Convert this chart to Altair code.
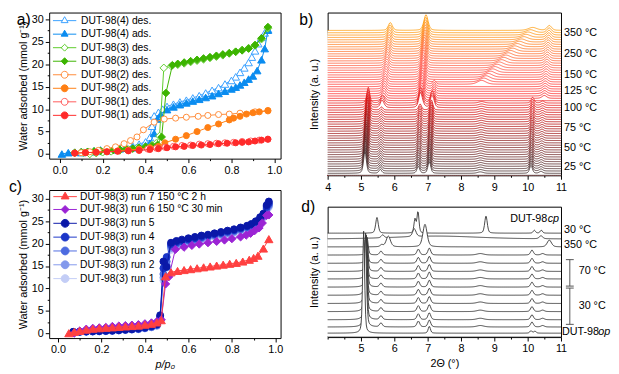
import altair as alt
import numpy as np
import pandas as pd

FONT = "Liberation Sans"

# ---------------- panel a: water isotherms ----------------
A_SERIES = ["DUT-98(4) des.", "DUT-98(4) ads.", "DUT-98(3) des.", "DUT-98(3) ads.",
            "DUT-98(2) des.", "DUT-98(2) ads.", "DUT-98(1) des.", "DUT-98(1) ads."]
A_COLORS = ["#3aa0ff", "#0a8cf0", "#5ccc2a", "#3cb400", "#ff8c3a", "#ff7f14", "#ff5a5a", "#ff2a2a"]
A_OPEN = [True, False, True, False, True, False, True, False]
A_SHAPES = ["triangle-up", "triangle-up", "diamond", "diamond", "circle", "circle", "circle", "circle"]

p4d = [0.97, 0.955, 0.94, 0.925, 0.91, 0.895, 0.88, 0.86, 0.84, 0.82, 0.80, 0.77, 0.74, 0.71, 0.68, 0.65,
       0.62, 0.59, 0.56, 0.53, 0.50, 0.48, 0.46, 0.44, 0.43, 0.42, 0.40, 0.37, 0.34, 0.31, 0.28, 0.25,
       0.22, 0.19, 0.16, 0.13, 0.10]
v4d = [27.8, 27.0, 26.0, 24.6, 23.0, 21.6, 20.4, 19.2, 18.2, 17.2, 16.4, 15.6, 14.8, 14.2, 13.6, 13.0,
       12.5, 12.0, 11.6, 11.1, 10.6, 10.0, 9.3, 8.5, 6.2, 3.7, 2.7, 2.2, 1.8, 1.5, 1.2, 0.9,
       0.7, 0.6, 0.5, 0.4, 0.3]
p4a = [0.01, 0.04, 0.07, 0.10, 0.13, 0.16, 0.19, 0.22, 0.25, 0.28, 0.31, 0.34, 0.37, 0.40, 0.42, 0.44,
       0.455, 0.47, 0.50, 0.53, 0.56, 0.59, 0.62, 0.65, 0.68, 0.71, 0.74, 0.77, 0.80, 0.82, 0.84, 0.86,
       0.88, 0.90, 0.92, 0.94, 0.955, 0.97]
v4a = [0.0, 0.3, 0.4, 0.5, 0.6, 0.7, 0.9, 1.0, 1.1, 1.2, 1.3, 1.4, 1.6, 1.9, 2.4, 4.6,
       7.8, 8.8, 9.9, 10.5, 11.0, 11.4, 11.8, 12.2, 12.6, 13.0, 13.5, 14.0, 14.5, 14.9, 15.4, 16.0,
       16.7, 17.4, 18.6, 21.0, 23.5, 27.6]
p3d = [0.97, 0.94, 0.91, 0.88, 0.85, 0.82, 0.79, 0.76, 0.73, 0.70, 0.67, 0.64, 0.61, 0.58, 0.55, 0.52,
       0.485, 0.465, 0.45, 0.43, 0.40, 0.36, 0.32, 0.28, 0.24, 0.20, 0.17, 0.14, 0.11]
v3d = [28.0, 25.6, 24.2, 23.6, 23.2, 22.8, 22.4, 22.0, 21.7, 21.4, 21.1, 20.8, 20.5, 20.2, 19.9, 19.6,
       19.2, 4.0, 2.4, 2.0, 1.6, 1.3, 1.0, 0.8, 0.6, 0.4, 0.2, 0.0, 0.3]
p3a = [0.07, 0.10, 0.13, 0.16, 0.19, 0.22, 0.25, 0.28, 0.31, 0.34, 0.37, 0.40, 0.43, 0.455, 0.475, 0.495,
       0.525, 0.55, 0.58, 0.61, 0.64, 0.67, 0.70, 0.73, 0.76, 0.79, 0.82, 0.85, 0.88, 0.91, 0.94, 0.97]
v3a = [0.3, 0.4, 0.5, 0.6, 0.7, 0.8, 0.9, 1.0, 1.1, 1.2, 1.4, 1.6, 1.8, 2.0, 3.8, 13.6,
       19.8, 20.1, 20.4, 20.7, 21.0, 21.3, 21.6, 21.9, 22.2, 22.5, 22.8, 23.1, 23.5, 24.3, 25.8, 28.3]
p2d = [0.97, 0.91, 0.84, 0.79, 0.74, 0.69, 0.645, 0.59, 0.54, 0.487, 0.44, 0.39, 0.36, 0.33, 0.30, 0.26,
       0.22, 0.18, 0.14, 0.10]
v2d = [9.6, 9.4, 9.1, 8.9, 8.8, 8.6, 8.4, 8.2, 8.0, 7.8, 7.1, 5.4, 3.8, 3.0, 2.3, 1.6,
       1.2, 0.8, 0.5, 0.3]
p2a = [0.07, 0.12, 0.17, 0.22, 0.27, 0.32, 0.37, 0.42, 0.46, 0.49, 0.54, 0.59, 0.64, 0.69, 0.74, 0.79,
       0.81, 0.84, 0.87, 0.90, 0.93, 0.97]
v2a = [0.2, 0.3, 0.4, 0.5, 0.7, 0.9, 1.1, 1.4, 1.7, 2.5, 3.3, 4.1, 5.0, 5.9, 6.7, 7.6,
       8.0, 8.4, 8.9, 9.2, 9.4, 9.7]
p1d = [0.97, 0.93, 0.89, 0.85, 0.81, 0.77, 0.73, 0.69, 0.65, 0.61, 0.57, 0.53, 0.49, 0.45, 0.41]
v1d = [3.3, 3.1, 2.9, 2.8, 2.6, 2.5, 2.4, 2.3, 2.2, 2.0, 1.9, 1.7, 1.5, 1.3, 1.1]
p1a = [0.07, 0.12, 0.17, 0.22, 0.27, 0.32, 0.37, 0.42, 0.46, 0.50, 0.54, 0.58, 0.62, 0.66, 0.70, 0.74,
       0.78, 0.82, 0.85, 0.88, 0.91, 0.94, 0.97]
v1a = [0.2, 0.3, 0.4, 0.5, 0.6, 0.7, 0.8, 1.0, 1.2, 1.4, 1.6, 1.7, 1.9, 2.0, 2.1, 2.3,
       2.4, 2.5, 2.6, 2.7, 2.9, 3.1, 3.3]
A_P = [p4d, p4a, p3d, p3a, p2d, p2a, p1d, p1a]
A_V = [v4d, v4a, v3d, v3a, v2d, v2a, v1d, v1a]

# ---------------- panel c: cycling isotherms ----------------
C_SERIES = ["DUT-98(3) run 7 150 °C 2 h", "DUT-98(3) run 6 150 °C 30 min", "DUT-98(3) run 5",
            "DUT-98(3) run 4", "DUT-98(3) run 3", "DUT-98(3) run 2", "DUT-98(3) run 1"]
C_COLORS = ["#ff4040", "#9b24d4", "#0a18a8", "#1c36c8", "#4d6be0", "#8399ec", "#c3cdf6"]
C_SHAPES = ["triangle-up", "diamond", "circle", "circle", "circle", "circle", "circle"]

pc_blue = [0.07, 0.10, 0.13, 0.16, 0.19, 0.22, 0.25, 0.28, 0.31, 0.34, 0.37, 0.40, 0.43, 0.455, 0.47,
           0.485, 0.50, 0.52, 0.545, 0.57, 0.60, 0.63, 0.66, 0.69, 0.72, 0.75, 0.78, 0.81, 0.84, 0.87,
           0.89, 0.91, 0.93, 0.945, 0.96, 0.97]
vc5 = [0.3, 0.35, 0.4, 0.45, 0.5, 0.55, 0.6, 0.7, 0.8, 0.9, 1.1, 1.3, 1.6, 2.0, 4.0,
       16.0, 14.8, 20.2, 20.6, 20.9, 21.2, 21.5, 21.8, 22.0, 22.3, 22.6, 22.9, 23.2, 23.6, 24.0,
       24.4, 25.0, 25.9, 26.7, 28.6, 29.4]
vc4 = [0.3, 0.35, 0.4, 0.45, 0.5, 0.55, 0.6, 0.7, 0.8, 0.9, 1.0, 1.2, 1.5, 1.9, 3.6,
       14.5, 17.0, 19.8, 20.3, 20.6, 20.9, 21.2, 21.5, 21.8, 22.1, 22.4, 22.7, 23.0, 23.4, 23.8,
       24.2, 24.8, 25.6, 26.4, 28.2, 29.0]
vc3 = [0.25, 0.3, 0.35, 0.4, 0.45, 0.5, 0.55, 0.65, 0.75, 0.85, 0.95, 1.15, 1.4, 1.8, 3.4,
       13.2, 16.0, 19.4, 20.0, 20.4, 20.7, 21.0, 21.3, 21.6, 21.9, 22.2, 22.5, 22.8, 23.2, 23.6,
       24.0, 24.6, 25.4, 26.2, 27.9, 28.7]
vc2 = [0.2, 0.25, 0.3, 0.35, 0.4, 0.45, 0.5, 0.6, 0.7, 0.8, 0.9, 1.1, 1.35, 1.7, 3.2,
       12.4, 15.2, 19.0, 19.7, 20.1, 20.4, 20.8, 21.1, 21.4, 21.7, 22.0, 22.3, 22.6, 23.0, 23.4,
       23.8, 24.4, 25.2, 26.0, 27.6, 28.4]
vc1 = [0.2, 0.25, 0.3, 0.35, 0.4, 0.45, 0.5, 0.6, 0.7, 0.8, 0.9, 1.05, 1.3, 1.6, 3.0,
       11.8, 14.6, 18.6, 19.4, 19.8, 20.2, 20.6, 20.9, 21.2, 21.5, 21.8, 22.1, 22.4, 22.8, 23.2,
       23.6, 24.2, 25.0, 25.8, 27.3, 28.1]
pc6 = [0.075, 0.10, 0.13, 0.16, 0.19, 0.22, 0.25, 0.28, 0.31, 0.34, 0.37, 0.40, 0.43, 0.455, 0.475,
       0.495, 0.51, 0.54, 0.58, 0.616, 0.65, 0.69, 0.73, 0.766, 0.80, 0.84, 0.866, 0.886, 0.905, 0.925,
       0.94, 0.96, 0.97]
vc6 = [0.0, 0.5, 0.9, 1.1, 1.2, 1.3, 1.5, 1.6, 1.7, 1.8, 1.9, 2.1, 2.3, 2.6, 3.0,
       11.0, 12.6, 18.7, 19.2, 19.6, 19.9, 20.2, 20.5, 20.8, 21.1, 21.5, 21.9, 22.3, 22.9, 23.5,
       24.6, 26.3, 26.4]
pc7 = [0.05, 0.075, 0.10, 0.13, 0.16, 0.19, 0.22, 0.25, 0.28, 0.31, 0.34, 0.37, 0.40, 0.43, 0.455,
       0.475, 0.495, 0.52, 0.55, 0.58, 0.61, 0.64, 0.67, 0.70, 0.73, 0.76, 0.79, 0.82, 0.85, 0.88,
       0.90, 0.92, 0.945, 0.97]
vc7 = [0.0, 0.3, 0.5, 0.8, 1.0, 1.1, 1.2, 1.3, 1.4, 1.5, 1.6, 1.7, 1.9, 2.1, 2.4,
       2.9, 12.7, 13.6, 13.9, 14.1, 14.3, 14.5, 14.7, 14.9, 15.1, 15.3, 15.5, 15.7, 16.0, 16.4,
       16.8, 17.3, 18.9, 21.0]
C_P = [pc7, pc6, pc_blue, pc_blue, pc_blue, pc_blue, pc_blue]
C_V = [vc7, vc6, vc5, vc4, vc3, vc2, vc1]

# ---------------- panel b: in-situ PXRD waterfall ----------------
B_N = 62
B_BASE0 = 2.0
B_STEP = 2.39
# peak table: first line, last line, position at first/last, height at first/last, FWHM
B_PEAKS = [
    (0, 30, 5.12, 5.22, 22, 16, 0.10),
    (0, 30, 5.58, 5.62, 4, 3, 0.10),
    (0, 30, 6.72, 6.78, 7, 6, 0.10),
    (0, 30, 7.05, 7.12, 12, 10, 0.10),
    (0, 30, 8.58, 8.62, 1.5, 1.5, 0.20),
    (0, 30, 10.10, 10.15, 8, 6, 0.10),
    (0, 30, 10.40, 10.45, 2, 2, 0.12),
    (28, 61, 5.65, 5.88, 5, 8, 0.14),
    (28, 61, 6.80, 6.95, 10, 16, 0.15),
    (28, 38, 7.18, 7.20, 6, 4, 0.10),
    (38, 61, 8.62, 10.15, 4, 3, 0.30),
    (32, 61, 10.50, 10.65, 3, 5, 0.16),
]
B_LABELS = ["25 °C", "50 °C", "75 °C", "100 °C", "125 °C", "150 °C", "250 °C", "350 °C"]
B_LABEL_Y = [8, 28, 48, 69, 86, 102, 124, 145]
B_COLOR_STOPS = [(0, "#3b2626"), (12, "#7a1010"), (26, "#d40000"), (34, "#ff2424"),
                 (44, "#ff4a3a"), (52, "#ff6a20"), (61, "#ff9a00")]

# ---------------- panel d: PXRD after cycling ----------------
D_OFFSETS = [4, 10.3, 17.7, 26, 34.3, 42.7, 51, 59.3, 67, 75.3, 83.7, 92, 100, 106]
D_MAIN_POS = [5.08, 5.13, 5.14, 5.14, 5.15, 5.15, 5.16, 5.16, 5.17, 5.17, 5.18]
D_MAIN_H = [104, 93.7, 88.3, 77, 70.7, 59.3, 53, 41.7, 36, 24.7, 18.3]
D_OP_EXTRA = [(7.05, 7, 0.08), (10.10, 2.5, 0.08), (10.22, 2, 0.08)]
D_MID_EXTRA = [(5.60, 4, 0.10), (6.72, 6, 0.10), (7.05, 7, 0.10), (8.58, 1.5, 0.25),
               (10.13, 5, 0.10), (10.45, 1.5, 0.12)]
D_350 = [(5.62, 2, 0.10), (5.82, 11, 0.15), (6.92, 23, 0.15), (10.65, 7, 0.15)]
D_L12 = [(5.65, 3, 0.10), (6.60, 8, 0.12), (7.30, 3, 3.0), (10.40, 3, 0.12)]
D_CP = [(5.48, 16, 0.09), (6.62, 14, 0.07), (6.71, 22, 0.07), (8.75, 17.7, 0.09),
        (10.20, 3, 0.08), (10.41, 3, 0.08)]

# ---------------- helpers ----------------
TRI = "M0,-1.15L1,0.58L-1,0.58Z"
DIA = "M0,-1L1,0L0,1L-1,0Z"
CIR = "M1,0A1,1,0,1,1,-1,0A1,1,0,1,1,1,0Z"
INDEP = dict(shape="independent", stroke="independent", fill="independent")


def sym_path(shape, reach):
    line = f"M-{reach},0L-0.75,0M0.75,0L{reach},0"
    return line + {"triangle-up": TRI, "diamond": DIA, "circle": CIR}[shape]


def tick_axis(values, major_test, fmt, **kw):
    return alt.Axis(values=values, labelExpr=f"({major_test}) ? {fmt} : ''",
                    tickSize={"condition": {"test": major_test, "value": 4}, "value": 2},
                    labelFlush=False, labelOverlap=False, **kw)


def profile(x, peaks):
    y = np.zeros_like(x)
    for pos, h, fw in peaks:
        d = (x - pos) / fw
        y += h * (0.6 * np.exp(-4 * np.log(2) * d * d) + 0.4 / (1 + 4 * d * d))
    return y


def hex2rgb(h):
    return np.array([int(h[i:i + 2], 16) for i in (1, 3, 5)], dtype=float)


def stop_color(i):
    for (i0, c0), (i1, c1) in zip(B_COLOR_STOPS[:-1], B_COLOR_STOPS[1:]):
        if i0 <= i <= i1:
            t = (i - i0) / (i1 - i0)
            c = hex2rgb(c0) * (1 - t) + hex2rgb(c1) * t
            return "#%02x%02x%02x" % tuple(int(round(v)) for v in c)
    return B_COLOR_STOPS[-1][1]


def panel_letter(txt, dx, ybase):
    return alt.Chart(pd.DataFrame({"t": [txt]})).mark_text(
        font=FONT, fontSize=16, align="left", baseline="alphabetic").encode(
        text="t:N", x=alt.value(dx), y=alt.value(ybase))


def legend_layer(series, colors, fills, shapes, size, reach, lx, ly, row_pad, sym_offset, label_offset):
    leg = alt.Legend(orient="none", legendX=lx, legendY=ly, title=None, symbolSize=size,
                     symbolStrokeWidth=1, labelFont=FONT, labelFontSize=10.5,
                     labelColor="black", labelLimit=400, rowPadding=row_pad, padding=3,
                     symbolOffset=sym_offset, labelOffset=label_offset)
    df = pd.DataFrame({"s": series})
    return alt.Chart(df).mark_point(clip=True, opacity=1, strokeWidth=1, fillOpacity=1).encode(
        x=alt.value(-300), y=alt.value(-300),
        shape=alt.Shape("s:N", scale=alt.Scale(domain=series, range=[sym_path(s, reach) for s in shapes]),
                        legend=leg),
        stroke=alt.Stroke("s:N", scale=alt.Scale(domain=series, range=colors), legend=leg),
        fill=alt.Fill("s:N", scale=alt.Scale(domain=series, range=fills), legend=leg),
    )


# ---------------- panel a ----------------
AW, AH = 236, 149
xa_axis = tick_axis([round(0.1 * k, 1) for k in range(11)],
                    "abs(datum.value*5 - round(datum.value*5)) < 0.001", "format(datum.value, '.1f')",
                    title=None, labelFontSize=11, labelPadding=2)
ya_axis = tick_axis([2.5 * k for k in range(13)], "datum.value % 5 == 0", "format(datum.value, 'd')",
                    title="Water adsorbed (mmol g⁻¹)", labelFontSize=11, labelPadding=2,
                    titleFontSize=11, titlePadding=3, titleFont=FONT, titleFontWeight="normal")
xa = alt.X("p:Q", scale=alt.Scale(domain=[-0.049, 1.029], nice=False), axis=xa_axis)
ya = alt.Y("v:Q", scale=alt.Scale(domain=[-1.03, 31.53], nice=False), axis=ya_axis)

a_layers = []
for s, c, op, sh, p, v in zip(A_SERIES, A_COLORS, A_OPEN, A_SHAPES, A_P, A_V):
    df = pd.DataFrame({"p": p, "v": v, "k": range(len(p))})
    base = alt.Chart(df)
    a_layers.append(base.mark_line(color=c, strokeWidth=1).encode(x=xa, y=ya, order="k:Q"))
    size = 38 if sh == "circle" else 60
    a_layers.append(base.mark_point(shape=sh, filled=True, fill="white" if op else c, stroke=c,
                                    strokeWidth=1, size=size, opacity=1).encode(x=xa, y=ya))
a_fills = ["white" if op else c for op, c in zip(A_OPEN, A_COLORS)]
a_layers.append(legend_layer(A_SERIES, A_COLORS, a_fills, A_SHAPES, 49, 3.4, 1, 0, 1.8, 6.5, 11.5))
a_layers.append(panel_letter("a)", -33, 13))
panel_a = alt.layer(*a_layers).properties(width=AW, height=AH).resolve_scale(**INDEP)

# ---------------- panel c ----------------
CW, CH = 236, 151
xc_axis = tick_axis([round(0.1 * k, 1) for k in range(11)],
                    "abs(datum.value*5 - round(datum.value*5)) < 0.001", "format(datum.value, '.1f')",
                    title="p/p₀", labelFontSize=11, labelPadding=2, titleFontSize=11,
                    titleFontStyle="italic", titleFont=FONT, titleFontWeight="normal", titlePadding=4)
yc_axis = tick_axis([2.5 * k for k in range(13)], "datum.value % 5 == 0", "format(datum.value, 'd')",
                    title="Water adsorbed (mmol g⁻¹)", labelFontSize=11, labelPadding=2,
                    titleFontSize=11, titlePadding=3, titleFont=FONT, titleFontWeight="normal")
xc = alt.X("p:Q", scale=alt.Scale(domain=[-0.0405, 1.024], nice=False), axis=xc_axis)
yc = alt.Y("v:Q", scale=alt.Scale(domain=[-1.09, 31.97], nice=False), axis=yc_axis)

c_layers = []
for s, c, sh, p, v in reversed(list(zip(C_SERIES, C_COLORS, C_SHAPES, C_P, C_V))):
    df = pd.DataFrame({"p": p, "v": v, "k": range(len(p))})
    base = alt.Chart(df)
    c_layers.append(base.mark_line(color=c, strokeWidth=1).encode(x=xc, y=yc, order="k:Q"))
    size = 50 if sh == "circle" else 70
    c_layers.append(base.mark_point(shape=sh, filled=True, fill=c, stroke=c, strokeWidth=1,
                                    size=size, opacity=1).encode(x=xc, y=yc))
c_layers.append(legend_layer(C_SERIES, C_COLORS, C_COLORS, C_SHAPES, 64, 3.0, 1, -1.5, 1.1, 7, 10))
c_layers.append(panel_letter("c)", -41, 2))
panel_c = alt.layer(*c_layers).properties(width=CW, height=CH).resolve_scale(**INDEP)

# ---------------- panel b ----------------
BW, BH = 238, 166
x_grid = np.round(np.arange(3.9, 11.1001, 0.02), 3)
b_rows = []
for i in range(B_N):
    peaks = []
    for i0, i1, p0, p1, h0, h1, fw in B_PEAKS:
        if i0 <= i <= i1:
            t = (i - i0) / (i1 - i0)
            peaks.append((p0 + (p1 - p0) * t, h0 + (h1 - h0) * t, fw))
    y = B_BASE0 + B_STEP * i + profile(x_grid, peaks)
    b_rows.append(pd.DataFrame({"x": x_grid, "y": np.round(y, 2), "i": i}))
dfb = pd.concat(b_rows, ignore_index=True)

xb_axis = tick_axis([4 + 0.5 * k for k in range(15)], "datum.value % 1 == 0", "format(datum.value, 'd')",
                    title=None, labelFontSize=11, labelPadding=2)
yb_axis = alt.Axis(title="Intensity (a. u.)", labels=False, ticks=False, titleFontSize=11,
                   titlePadding=8, titleFont=FONT, titleFontWeight="normal")
xb = alt.X("x:Q", scale=alt.Scale(domain=[4, 11], nice=False), axis=xb_axis)
yb = alt.Y("y:Q", scale=alt.Scale(domain=[0, BH], nice=False), axis=yb_axis)

b_layers = []
for i in range(B_N - 1, -1, -1):
    b_layers.append(alt.Chart(dfb).transform_filter(f"datum.i == {i}").mark_area(
        fill="white", stroke=stop_color(i), strokeWidth=0.8, clip=True).encode(
        x=xb, y=yb, y2=alt.value(BH + 40)))
dfbl = pd.DataFrame({"t": B_LABELS, "y": B_LABEL_Y})
b_layers.append(alt.Chart(dfbl).mark_text(font=FONT, fontSize=11, align="left", baseline="middle").encode(
    text="t:N", x=alt.value(BW + 3), y=alt.Y("y:Q")))
b_layers.append(panel_letter("b)", -29, 13))
panel_b = alt.layer(*b_layers, data=dfb).properties(width=BW, height=BH)

# ---------------- panel d ----------------
DW, DH = 238, 133
d_peaks = [[(D_MAIN_POS[0], D_MAIN_H[0], 0.07)] + D_OP_EXTRA]
for k in range(1, 11):
    d_peaks.append([(D_MAIN_POS[k], D_MAIN_H[k], 0.08)] + D_MID_EXTRA)
d_peaks += [D_350, D_L12, D_CP]
d_rows = []
for k, (off, pk) in enumerate(zip(D_OFFSETS, d_peaks)):
    d_rows.append(pd.DataFrame({"x": x_grid, "y": np.round(off + profile(x_grid, pk), 2), "i": k}))
dfd = pd.concat(d_rows, ignore_index=True)

xd_axis = tick_axis([4 + 0.5 * k for k in range(15)], "datum.value % 1 == 0 && datum.value > 4",
                    "format(datum.value, 'd')", title="2Θ (°)", labelFontSize=11, labelPadding=2,
                    titleFontSize=11, titleFont=FONT, titleFontWeight="normal", titlePadding=4)
xd = alt.X("x:Q", scale=alt.Scale(domain=[4, 11], nice=False), axis=xd_axis)
yd = alt.Y("y:Q", scale=alt.Scale(domain=[0, DH], nice=False), axis=yb_axis)

d_layers = []
for k in range(len(D_OFFSETS) - 1, -1, -1):
    d_layers.append(alt.Chart(dfd).transform_filter(f"datum.i == {k}").mark_area(
        fill="white", stroke="#333333", strokeWidth=0.9, clip=True).encode(
        x=xd, y=yd, y2=alt.value(DH + 40)))
D_TEXT = ["30 °C", "350 °C", "70 °C", "30 °C", "DUT-98"]
D_TEXT_Y = [109, 94, 67, 32, 5]
D_TEXT_X = [3, 3, 18, 18, 1]
dft = pd.DataFrame({"t": D_TEXT, "y": D_TEXT_Y, "xo": [DW + v for v in D_TEXT_X]})
d_layers.append(alt.Chart(dft).mark_text(font=FONT, fontSize=11, align="left", baseline="middle").encode(
    text="t:N", x=alt.X("xo:Q", scale=None), y=alt.Y("y:Q")))
d_layers.append(alt.Chart(pd.DataFrame({"t": ["op"], "y": [5]})).mark_text(
    font=FONT, fontSize=11, fontStyle="italic", align="left", baseline="middle", dx=37).encode(
    text="t:N", x=alt.value(DW + 1), y=alt.Y("y:Q")))
d_layers.append(alt.Chart(pd.DataFrame({"t": ["DUT-98"], "y": [120]})).mark_text(
    font=FONT, fontSize=11, align="right", baseline="middle", dx=-12).encode(
    text="t:N", x=alt.value(DW - 2), y=alt.Y("y:Q")))
d_layers.append(alt.Chart(pd.DataFrame({"t": ["cp"], "y": [120]})).mark_text(
    font=FONT, fontSize=11, fontStyle="italic", align="right", baseline="middle").encode(
    text="t:N", x=alt.value(DW - 2), y=alt.Y("y:Q")))
BR_Y0 = [79, 50]
BR_Y1 = [52, 13]
dfbr = pd.DataFrame({"y0": BR_Y0, "y1": BR_Y1})
d_layers.append(alt.Chart(dfbr).mark_rule(color="#555555", strokeWidth=1).encode(
    x=alt.value(DW + 9), y=alt.Y("y0:Q"), y2="y1:Q"))
dfcap = pd.DataFrame({"y": BR_Y0 + BR_Y1})
d_layers.append(alt.Chart(dfcap).mark_rule(color="#555555", strokeWidth=1).encode(
    x=alt.value(DW + 5), x2=alt.value(DW + 13), y=alt.Y("y:Q")))
d_layers.append(panel_letter("d)", -27, 5))
panel_d = alt.layer(*d_layers).properties(width=DW, height=DH)

left = alt.vconcat(panel_a, panel_c, spacing=2).resolve_scale(**INDEP)
right = alt.vconcat(panel_b, panel_d, spacing=5)
chart = alt.hconcat(left, right, spacing=15).resolve_scale(**INDEP).configure(
    font=FONT, padding=0,
).configure_view(stroke="black", strokeWidth=1).configure_axis(
    domain=False, grid=False, tickColor="black", tickWidth=1, labelColor="black", titleColor="black",
    labelFont=FONT, titleFont=FONT,
)

chart.save("out.html", embed_options={"renderer": "svg", "actions": False})
